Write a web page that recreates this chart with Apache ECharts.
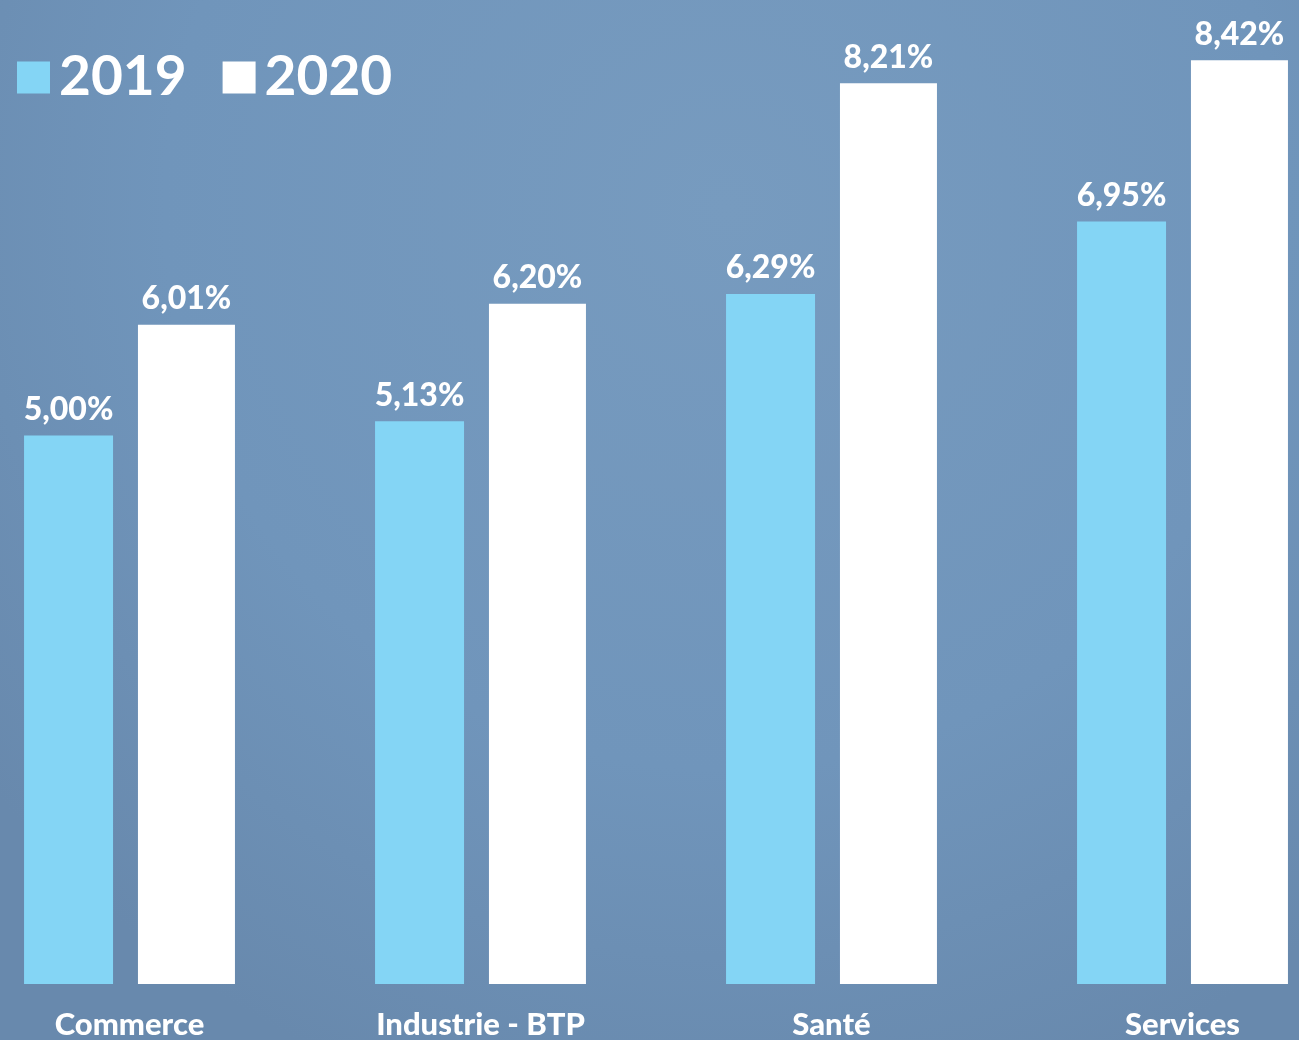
<!DOCTYPE html>
<html>
<head>
<meta charset="utf-8">
<title>2019 / 2020</title>
<script src="https://cdn.jsdelivr.net/npm/echarts@6/dist/echarts.min.js"></script>
<style>
  html, body { margin: 0; padding: 0; overflow: hidden; width: 1299px; height: 1040px; background: #6d90b5; }
  /* les groupes de barres débordent à gauche et à droite : le conteneur est plus large que la page */
  #main { position: absolute; left: -46px; top: 0; width: 1404px; height: 1040px; }
</style>
</head>
<body>
<div id="main"></div>
<script>
// données
const categories = ['Commerce', 'Industrie - BTP', 'Santé', 'Services'];
const values2019 = [5.00, 5.13, 6.29, 6.95];
const values2020 = [6.01, 6.20, 8.21, 8.42];

const fmt = (v) => v.toFixed(2).replace('.', ',') + '%';

const myChart = echarts.init(document.getElementById('main'));

const labelStyle = {
  show       : true,
  position   : 'top',
  distance   : 10,
  color      : '#ffffff',
  fontFamily : 'Lato',
  fontWeight : 900,
  fontSize   : 32,
  formatter  : (p) => fmt(p.value),
};

myChart.setOption({
  backgroundColor: {
    type       : 'radial',
    x          : 0.55,
    y          : 0.2,
    r          : 0.9,
    colorStops : [
      { offset: 0, color: '#779bbf' },
      { offset: 0.6, color: '#7095bb' },
      { offset: 1, color: '#6889ad' },
    ],
  },
  animation : false,
  legend    : {
    left       : 58,
    top        : 45,
    itemWidth  : 33,
    itemHeight : 32,
    itemGap    : 36,
    icon       : 'rect',
    textStyle  : {
      color      : '#ffffff',
      fontFamily : 'Lato',
      fontWeight : 'bold',
      fontSize   : 55,
      padding    : [0, 0, 0, 4],
    },
    data: ['2019', '2020'],
  },
  grid: {
    left   : 0,
    right  : 0,
    top    : 0,
    bottom : 55,
  },
  xAxis: {
    type      : 'category',
    data      : categories,
    axisLine  : { show: false },
    axisTick  : { show: false },
    axisLabel : {
      margin     : 25,
      color      : '#ffffff',
      fontFamily : 'Lato',
      fontWeight : 900,
      fontSize   : 31,
    },
  },
  yAxis: {
    type      : 'value',
    min       : 0,
    max       : 8.97,
    show      : false,
    splitLine : { show: false },
  },
  series: [{
    name      : '2019',
    type      : 'bar',
    data      : values2019,
    barWidth  : 89,
    barGap    : '28%',
    itemStyle : { color: '#84d5f5' },
    label     : labelStyle,
  }, {
    name      : '2020',
    type      : 'bar',
    data      : values2020,
    barWidth  : 97,
    itemStyle : { color: '#ffffff' },
    label     : labelStyle,
  }],
});
</script>
</body>
</html>
